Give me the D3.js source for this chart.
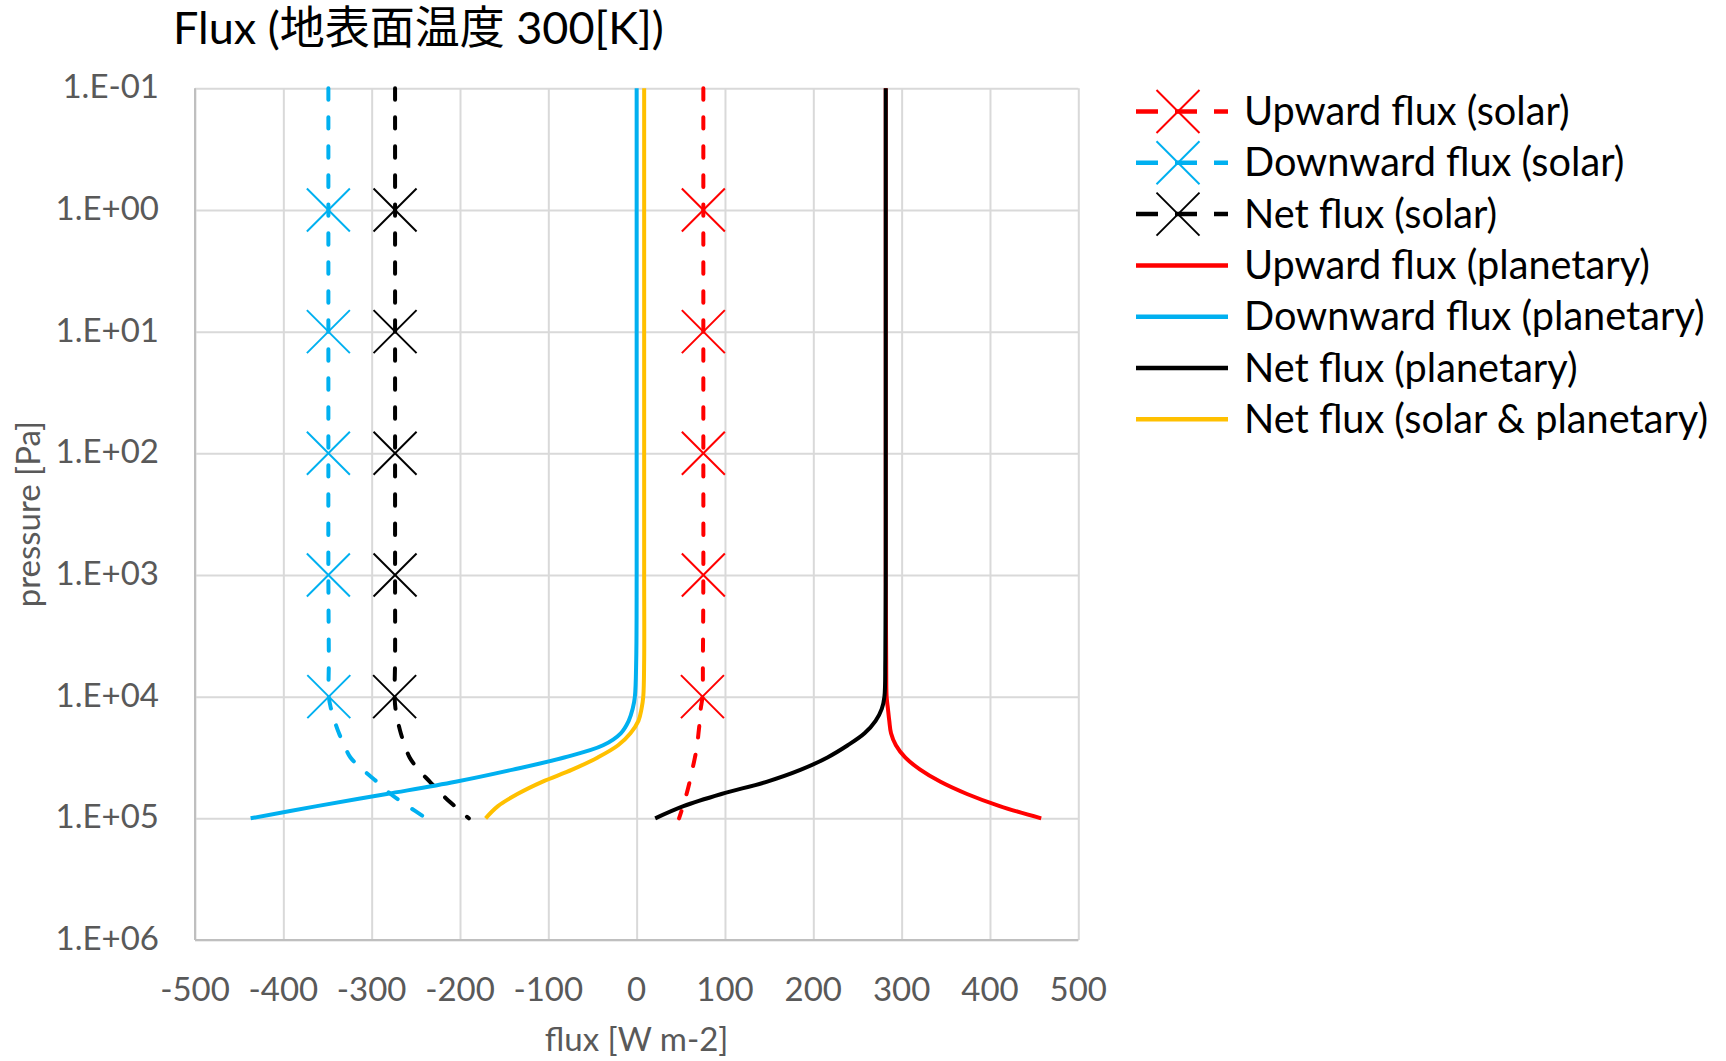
<!DOCTYPE html>
<html>
<head>
<meta charset="utf-8">
<script src="https://cdn.jsdelivr.net/npm/d3@7"></script>
<style>
  html, body { margin: 0; padding: 0; background: #ffffff; }
  svg { display: block; }
  text { font-family: "Lato", "Noto Sans CJK JP", sans-serif; }
</style>
</head>
<body>
<svg id="chart" width="1726" height="1061"></svg>
<script>
// Pressure levels [Pa] shared by all flux profiles
const pressure = [0.1, 1, 10, 100, 1000, 5000, 1e4, 1.26e4, 1.58e4, 2e4, 2.51e4, 3.16e4, 3.98e4, 5.01e4, 6.31e4, 7.94e4, 1e5];

// Solar fluxes [W m-2]
const upSolar   = [75.5, 75.5, 75.5, 75.5, 75.5, 75, 74.5, 72.5, 71.5, 70, 68.5, 66, 63, 60, 56.5, 52.5, 48];
const downSolar = [-349, -349, -349, -349, -349, -348.5, -348.5, -346, -342, -337, -331, -324, -310, -294, -278.5, -259, -238];
const netSolar  = [-273.5, -273.5, -273.5, -273.5, -273.5, -273.5, -274, -273, -270.5, -267, -262.5, -257, -247, -234, -221, -206, -190];

// Planetary (thermal) fluxes [W m-2]
const upPlanet   = [282, 282, 282, 282, 282, 282.5, 283, 284.5, 286, 288, 293.5, 304, 321, 344, 374, 411, 458];
const downPlanet = [0, 0, 0, 0, 0, -0.5, -2, -4.5, -9, -18, -38, -82, -140, -205, -283, -362, -437];
const netPlanet  = [282, 282, 282, 282, 282, 281.5, 280.5, 277.5, 270.5, 258, 239, 216, 186, 147, 96, 53, 21];

// Total net flux (solar & planetary) [W m-2]
const netTotal = [8.5, 8.5, 8.5, 8.5, 8.5, 8.5, 7.5, 5.5, 2, -7, -21, -44, -73, -107, -135, -157, -171];

// Pressure levels that carry an X marker on the solar profiles
const markerPressure = [1, 10, 100, 1000, 10000];

// Axis ticks
const xTicks = [-500, -400, -300, -200, -100, 0, 100, 200, 300, 400, 500];
const yTicks = [0.1, 1, 10, 100, 1000, 1e4, 1e5, 1e6];
const yTickLabels = ["1.E-01", "1.E+00", "1.E+01", "1.E+02", "1.E+03", "1.E+04", "1.E+05", "1.E+06"];

const seriesNames = [
  "Upward flux (solar)", "Downward flux (solar)", "Net flux (solar)",
  "Upward flux (planetary)", "Downward flux (planetary)", "Net flux (planetary)",
  "Net flux (solar & planetary)"
];

const series = [
  { name: seriesNames[0], values: upSolar,    color: "#FF0000", dashed: true },
  { name: seriesNames[1], values: downSolar,  color: "#00B0F0", dashed: true },
  { name: seriesNames[2], values: netSolar,   color: "#000000", dashed: true },
  { name: seriesNames[3], values: upPlanet,   color: "#FF0000", dashed: false },
  { name: seriesNames[4], values: downPlanet, color: "#00B0F0", dashed: false },
  { name: seriesNames[5], values: netPlanet,  color: "#000000", dashed: false },
  { name: seriesNames[6], values: netTotal,   color: "#FFC000", dashed: false }
];

const svg = d3.select("#chart");

const plot = { left: 195, right: 1078.3, top: 88.3, bottom: 940 };
const x = d3.scaleLinear().domain([-500, 500]).range([plot.left, plot.right]);
const y = d3.scaleLog().domain([0.1, 1e6]).range([plot.top, plot.bottom]);

const gridColor = "#d9d9d9";
const axisColor = "#bfbfbf";
const labelColor = "#595959";

// Gridlines
const xGrid = svg.append("g")
  .attr("transform", `translate(0,${plot.bottom})`)
  .call(d3.axisBottom(x).tickValues(xTicks).tickSize(-(plot.bottom - plot.top)).tickFormat(""));
xGrid.select(".domain").remove();
xGrid.selectAll(".tick line").attr("stroke", gridColor).attr("stroke-width", 2);

const yGrid = svg.append("g")
  .attr("transform", `translate(${plot.left},0)`)
  .call(d3.axisLeft(y).tickValues(yTicks).tickSize(-(plot.right - plot.left)).tickFormat(""));
yGrid.select(".domain").remove();
yGrid.selectAll(".tick line").attr("stroke", gridColor).attr("stroke-width", 2);

// Axis lines
svg.append("line")
  .attr("x1", plot.left).attr("x2", plot.left)
  .attr("y1", plot.top).attr("y2", plot.bottom)
  .attr("stroke", axisColor).attr("stroke-width", 2);
svg.append("line")
  .attr("x1", plot.left).attr("x2", plot.right)
  .attr("y1", plot.bottom).attr("y2", plot.bottom)
  .attr("stroke", axisColor).attr("stroke-width", 2);

// Tick labels
svg.append("g").selectAll("text")
  .data(xTicks)
  .join("text")
  .attr("x", d => x(d))
  .attr("y", 1001)
  .attr("text-anchor", "middle")
  .attr("font-size", 33)
  .attr("fill", labelColor)
  .text(d => d);

svg.append("g").selectAll("text")
  .data(yTicks)
  .join("text")
  .attr("x", 159)
  .attr("y", d => y(d) + 10)
  .attr("text-anchor", "end")
  .attr("font-size", 33)
  .attr("fill", labelColor)
  .text((d, i) => yTickLabels[i]);

// Axis titles
svg.append("text")
  .attr("x", (plot.left + plot.right) / 2)
  .attr("y", 1051)
  .attr("text-anchor", "middle")
  .attr("font-size", 33)
  .attr("fill", labelColor)
  .text("flux [W m-2]");

svg.append("text")
  .attr("transform", `translate(40,${(plot.top + plot.bottom) / 2}) rotate(-90)`)
  .attr("text-anchor", "middle")
  .attr("font-size", 33)
  .attr("fill", labelColor)
  .text("pressure [Pa]");

// Chart title
svg.append("text")
  .attr("x", 173)
  .attr("y", 44)
  .attr("font-size", 45)
  .attr("fill", "#000000")
  .text("Flux (地表面温度 300[K])");

// Profiles
const lineGen = vals => d3.line()
  .x((p, i) => x(vals[i]))
  .y(p => y(p))
  .curve(d3.curveCatmullRom.alpha(0.5))(pressure);

const markerHalf = 21.5;
function drawX(g, cx, cy, color) {
  g.append("line")
    .attr("x1", cx - markerHalf).attr("y1", cy - markerHalf)
    .attr("x2", cx + markerHalf).attr("y2", cy + markerHalf)
    .attr("stroke", color).attr("stroke-width", 2);
  g.append("line")
    .attr("x1", cx - markerHalf).attr("y1", cy + markerHalf)
    .attr("x2", cx + markerHalf).attr("y2", cy - markerHalf)
    .attr("stroke", color).attr("stroke-width", 2);
}

series.forEach(s => {
  const g = svg.append("g");
  g.append("path")
    .attr("d", lineGen(s.values))
    .attr("fill", "none")
    .attr("stroke", s.color)
    .attr("stroke-width", 4)
    .attr("stroke-linecap", s.dashed ? "round" : "butt")
    .attr("stroke-linejoin", "round")
    .attr("stroke-dasharray", s.dashed ? "11.5,17.5" : null);
  if (s.dashed) {
    markerPressure.forEach(p => {
      const i = pressure.indexOf(p);
      drawX(g, x(s.values[i]), y(p), s.color);
    });
  }
});

// Legend
const legend = svg.append("g");
const legendTop = 111.5, legendStep = 51.3;
const legendX0 = 1136, legendX1 = 1228, legendText = 1244;
series.forEach((s, i) => {
  const ly = legendTop + i * legendStep;
  const row = legend.append("g");
  row.append("line")
    .attr("x1", legendX0).attr("x2", legendX1)
    .attr("y1", ly).attr("y2", ly)
    .attr("stroke", s.color)
    .attr("stroke-width", 4.5)
    .attr("stroke-dasharray", s.dashed ? "22,17" : null);
  if (s.dashed) drawX(row, (legendX0 + legendX1) / 2 - 4, ly, s.color);
  row.append("text")
    .attr("x", legendText)
    .attr("y", ly + 13.5)
    .attr("font-size", 39.7)
    .attr("fill", "#000000")
    .text(s.name);
});
</script>
</body>
</html>
